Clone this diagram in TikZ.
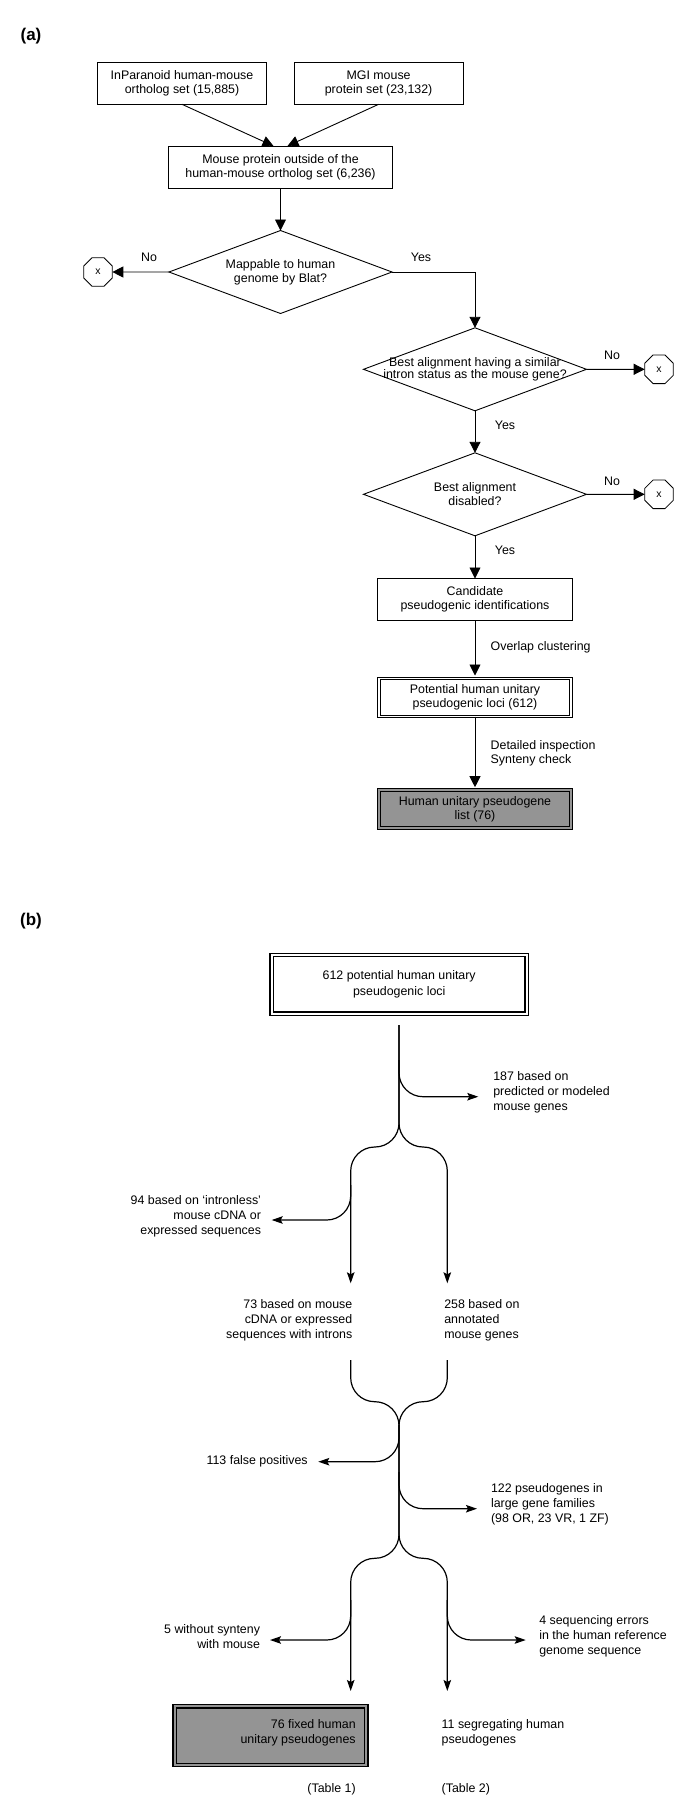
\documentclass[tikz,border=0pt]{standalone}
\usepackage{fontspec}
\setmainfont{Liberation Sans}
\usepackage{xcolor}
\usepackage{tikz}
\usetikzlibrary{shapes.geometric}
\usetikzlibrary{arrows.meta}
\definecolor{boxgray}{gray}{0.58}

\begin{document}
\begin{tikzpicture}[x=1pt,y=-1pt,
    every node/.style={inner sep=0pt, outer sep=0pt, font=\fontsize{12.4}{14}\selectfont},
    proc/.style={draw, line width=0.9pt, minimum height=42pt, align=center},
    dproc/.style={draw, line width=1pt, double=white, double distance=1.5pt, minimum height=38pt, align=center},
    bigbox/.style={draw, line width=1.3pt, double=white, double distance=2.1pt, minimum height=58.6pt, align=center, font=\fontsize{12.4}{15.5}\selectfont},
    dec/.style={draw, diamond, line width=0.9pt, minimum width=223pt, minimum height=83pt},
    endx/.style={draw, regular polygon, regular polygon sides=8, minimum size=31pt, line width=0.8pt, font=\fontsize{10.5}{12}\selectfont},
    arr/.style={-{Triangle[length=11pt,width=11pt]}, line width=0.9pt},
    flow/.style={-{Stealth[length=11pt,width=7.5pt,inset=2pt]}, line width=1.2pt, rounded corners=24pt},
    note/.style={font=\fontsize{12.4}{15}\selectfont},
    panel/.style={font=\fontsize{17}{20}\selectfont\bfseries}]
\useasboundingbox (0,0) rectangle (685,1816);

% Part (a): search pipeline
\node[panel] (pa) at (31,36) {(a)};
\node[proc, minimum width=169pt] (inp) at (182,83.3) {InParanoid human-mouse\\ortholog set (15,885)};
\node[proc, minimum width=169pt] (mgi) at (378.6,83.3) {MGI mouse\\protein set (23,132)};
\node[proc, minimum width=224pt] (outside) at (280.5,167) {Mouse protein outside of the\\human-mouse ortholog set (6,236)};
\node[dec] (blat) at (280.5,272) {};
\node[align=center] (blattext) at (blat.center) {Mappable to human\\genome by Blat?};
\node[endx] (x1) at (98,272) {x};
\node (no1) at (149,257) {No};
\node (yes1) at (421,257) {Yes};
\node[dec] (intron) at (475,369.3) {};
\node[align=center, font=\fontsize{12.4}{11}\selectfont] (introntext) at (intron.center) {Best alignment having a similar\\intron status as the mouse gene?};
\node[endx] (x2) at (659,369.3) {x};
\node (no2) at (612,355) {No};
\node (yes2) at (505,425) {Yes};
\node[dec] (disabled) at (475,494.3) {};
\node[align=center] (disabledtext) at (disabled.center) {Best alignment\\disabled?};
\node[endx] (x3) at (659,494.3) {x};
\node (no3) at (612,481) {No};
\node (yes3) at (505,550) {Yes};
\node[proc, minimum width=195.6pt] (cand) at (475,599.5) {Candidate\\pseudogenic identifications};
\node[anchor=west] (overlap) at (490.7,647.7) {Overlap clustering};
\node[dproc, minimum width=192pt] (loci) at (475,697.5) {Potential human unitary\\pseudogenic loci (612)};
\node[anchor=west, align=left] (inspect) at (490.7,752.8) {Detailed inspection\\Synteny check};
\node[dproc, minimum width=192pt, fill=boxgray, double=boxgray] (list) at (475,809.2) {Human unitary pseudogene\\list (76)};

\draw[arr] (inp.south) -- ([xshift=-7pt]outside.north);
\draw[arr] (mgi.south) -- ([xshift=7pt]outside.north);
\draw[arr] (outside.south) -- (blat.north);
\draw[arr] (blat.west) -- (x1.east);
\draw[arr] (blat.east) -| (intron.north);
\draw[arr] (intron.east) -- (x2.west);
\draw[arr] (intron.south) -- (disabled.north);
\draw[arr] (disabled.east) -- (x3.west);
\draw[arr] (disabled.south) -- (cand.north);
\draw[arr, shorten >=3pt] (cand.south) -- (loci.north);
\draw[arr, shorten >=3pt] (loci.south) -- (list.north);

% Part (b): breakdown of the 612 loci
\node[panel] (pb) at (31,920.7) {(b)};
\node[bigbox, minimum width=255pt] (b612) at (399.2,984.3) {612 potential human unitary\\pseudogenic loci};

\coordinate (top) at (399,1025);
\coordinate (s187) at (399,1060);
\coordinate (e187) at (478.3,1096.7);
\coordinate (f1l) at (350.7,1147);
\coordinate (f1r) at (447.3,1147);
\coordinate (s94) at (350.7,1185);
\coordinate (e94) at (271.7,1220);
\coordinate (a73) at (350.7,1283.3);
\coordinate (a258) at (447.3,1283.3);

\node[note, anchor=west, align=left] (t187) at (493.3,1092) {187 based on\\predicted or modeled\\mouse genes};
\node[note, anchor=east, align=right] (t94) at (261,1215.8) {94 based on `intronless'\\mouse cDNA or\\expressed sequences};
\node[note, anchor=east, align=right] (t73) at (352.3,1320.6) {73 based on mouse\\cDNA or expressed\\sequences with introns};
\node[note, anchor=west, align=left] (t258) at (444.3,1320.6) {258 based on\\annotated\\mouse genes};

\draw[flow] (top) |- (f1l) -- (a73);
\draw[flow] (top) |- (f1r) -- (a258);
\draw[flow] (s187) |- (e187);
\draw[flow] (s94) |- (e94);

% merge, then second split
\coordinate (m73) at (350.7,1360);
\coordinate (m258) at (447.3,1360);
\coordinate (j1) at (399,1401.7);
\coordinate (f2l) at (350.7,1558.3);
\coordinate (f2r) at (447.3,1558.3);
\coordinate (a76) at (350.7,1691);
\coordinate (a11) at (447.3,1691);
\coordinate (s113) at (399,1425);
\coordinate (e113) at (318.3,1461.7);
\coordinate (s122) at (399,1472);
\coordinate (e122) at (477,1508.7);
\coordinate (s5) at (350.7,1600);
\coordinate (e5) at (270,1640);
\coordinate (s4) at (447.3,1600);
\coordinate (e4) at (525.7,1640);

\draw[flow] (m73) |- (j1) |- (f2l) -- (a76);
\draw[flow] (m258) |- (j1) |- (f2r) -- (a11);
\draw[flow] (s113) |- (e113);
\draw[flow] (s122) |- (e122);
\draw[flow] (s5) |- (e5);
\draw[flow] (s4) |- (e4);

\node[note, anchor=east] (t113) at (307.7,1461.5) {113 false positives};
\node[note, anchor=west, align=left] (t122) at (491,1504.4) {122 pseudogenes in\\large gene families\\(98 OR, 23 VR, 1 ZF)};
\node[note, anchor=east, align=right] (t5) at (260,1636.3) {5 without synteny\\with mouse};
\node[note, anchor=west, align=left] (t4) at (539.3,1635.9) {4 sequencing errors\\in the human reference\\genome sequence};

\node[bigbox, minimum width=191.7pt, fill=boxgray, double=boxgray] (b76) at (270.5,1735.6) {};
\node[note, anchor=east, align=right] (t76) at (355.7,1733.2) {76 fixed human\\unitary pseudogenes};
\node[note, anchor=west, align=left] (t11) at (441.7,1733.2) {11 segregating human\\pseudogenes};
\node[note, anchor=east] (tab1) at (355.7,1789) {(Table 1)};
\node[note, anchor=west] (tab2) at (441.7,1789) {(Table 2)};
\end{tikzpicture}
\end{document}
